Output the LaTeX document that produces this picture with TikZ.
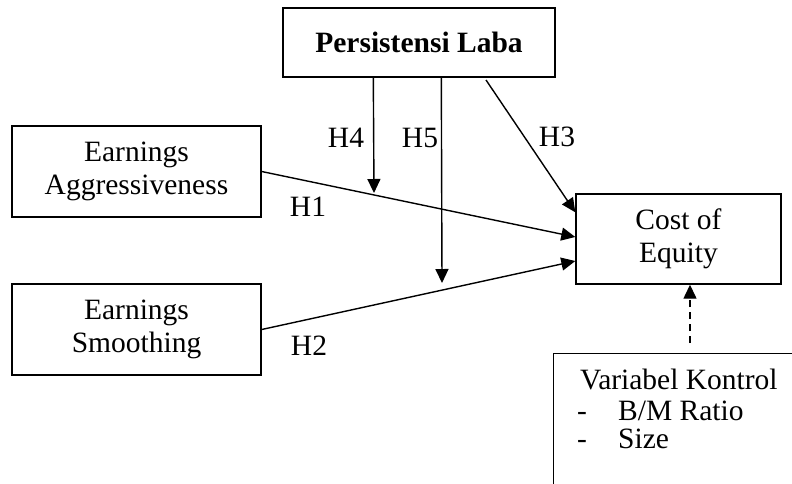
\documentclass[tikz,border=0pt]{standalone}
\usepackage{fontspec}
\setmainfont{Liberation Serif}
\usetikzlibrary{arrows.meta,calc}
\begin{document}
\begin{tikzpicture}[x=1pt,y=-1pt,
  box/.style={draw,line width=1.4pt,inner sep=0pt,align=center,font=\fontsize{29.5}{33.5}\selectfont},
  lbl/.style={font=\fontsize{29.5}{33.5}\selectfont,inner sep=0pt},
  arr/.style={line width=1.4pt,-{Triangle[length=14pt,width=13pt]}},
]
\useasboundingbox (0,0) rectangle (792,483);
\clip (0,0) rectangle (792,483);
% boxes
\node[box,minimum width=272pt,minimum height=69pt,font=\bfseries\fontsize{29.5}{33.5}\selectfont] (pl) at (419,42.5) {Persistensi Laba};
\node[box,minimum width=249pt,minimum height=91pt] (ea) at (136.5,171.5) {Earnings\\Aggressiveness};
\node[box,minimum width=249pt,minimum height=91pt] (es) at (136.5,329.5) {Earnings\\Smoothing};
\node[box,minimum width=205pt,minimum height=90pt] (coe) at (678.5,239) {Cost of\\Equity};
\node[draw,line width=1.4pt,anchor=north west,minimum width=300pt,minimum height=200pt] (vk) at (553,353) {};
\node[lbl,anchor=base west] (vkt) at (580,389) {Variabel Kontrol};
\node[lbl,anchor=base west] (d1) at (577,420) {-};
\node[lbl,anchor=base west] (bm) at (618,420) {B/M Ratio};
\node[lbl,anchor=base west] (d2) at (577,448) {-};
\node[lbl,anchor=base west] (sz) at (618,448) {Size};
% coordinates
\coordinate (h3s) at (486,80);
\coordinate (h4e) at (374,193);
\coordinate (h5e) at (442,283);
\coordinate (dks) at ($(vk.north west)+(137,-10)$);
% connectors
\draw[arr] (ea.east) -- ($(coe.west)+(0,-2)$);
\draw[arr] (es.east) -- ($(coe.west)+(0,22)$);
\draw[arr] (h3s) -- ($(coe.north west)+(0,19)$);
\draw[arr] ($(pl.south west)+(91,0)$) -- (h4e);
\draw[arr] ($(pl.south west)+(159,0)$) -- (h5e);
\draw[arr,dash pattern=on 7pt off 5pt] (dks) -- ($(coe.south)+(11.5,0)$);
% labels
\node[lbl] (lh4) at (346,138) {H4};
\node[lbl] (lh5) at (420,138) {H5};
\node[lbl] (lh3) at (557,137) {H3};
\node[lbl] (lh1) at (308,207) {H1};
\node[lbl] (lh2) at (309,346) {H2};
\end{tikzpicture}
\end{document}
